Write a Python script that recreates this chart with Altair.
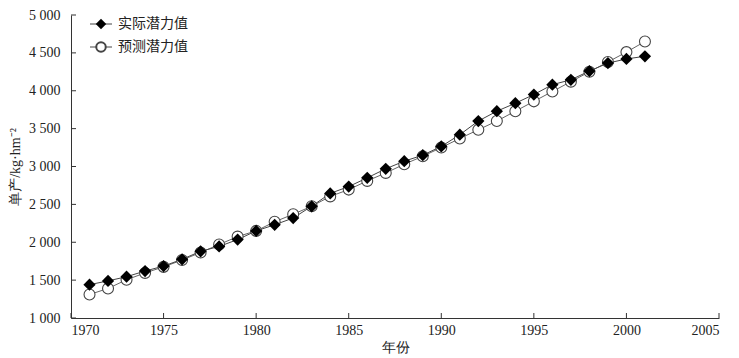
import altair as alt
import pandas as pd

years = list(range(1971, 2002))
actual = [1440, 1490, 1545, 1620, 1685, 1775, 1880, 1945, 2035, 2150,
          2230, 2320, 2475, 2645, 2735, 2850, 2970, 3070, 3150, 3265,
          3420, 3600, 3730, 3835, 3950, 4080, 4145, 4260, 4365, 4420, 4455]
predicted = [1310, 1390, 1505, 1595, 1675, 1765, 1865, 1970, 2075, 2150,
             2270, 2370, 2475, 2605, 2695, 2810, 2915, 3030, 3135, 3250,
             3370, 3485, 3600, 3730, 3860, 3990, 4120, 4250, 4380, 4510, 4650]
legend_labels = ["实际潜力值", "预测潜力值"]
x_ticks = list(range(1970, 2006, 5))
y_ticks = list(range(1000, 5001, 500))

W, H = 648, 303
FONT = "Liberation Serif"

df_a = pd.DataFrame({"year": years, "value": actual})
df_p = pd.DataFrame({"year": years, "value": predicted})

xs = alt.Scale(domain=[1970, 2005], nice=False, zero=False)
ys = alt.Scale(domain=[1000, 5000], nice=False, zero=False)

x_enc = alt.X("year:Q", scale=xs, title="年份",
              axis=alt.Axis(values=x_ticks, format="d", tickSize=0, labelPadding=5,
                            grid=False, domainColor="#333", titlePadding=3))
y_enc = alt.Y("value:Q", scale=ys, title="单产/kg·hm⁻²",
              axis=alt.Axis(values=y_ticks, tickSize=0, labelPadding=11, grid=False,
                            domainColor="#333", titlePadding=6,
                            labelExpr="replace(format(datum.value, ','), ',', ' ')"))

line_p = alt.Chart(df_p).mark_line(color="#666", strokeWidth=1).encode(x=x_enc, y=y_enc)
line_a = alt.Chart(df_a).mark_line(color="#444", strokeWidth=1).encode(x=x_enc, y=y_enc)
pts_p = alt.Chart(df_p).mark_point(shape="circle", filled=False, size=120, color="#444",
                                   fill="white", fillOpacity=1, strokeWidth=1.1, opacity=1).encode(x=x_enc, y=y_enc)
pts_a = alt.Chart(df_a).mark_point(shape="diamond", filled=True, size=150, color="black",
                                   opacity=1).encode(x=x_enc, y=y_enc)

yt = alt.Chart(pd.DataFrame({"value": y_ticks})).mark_rule(color="#333").encode(
    y=y_enc, x=alt.value(0), x2=alt.value(5))
xt = alt.Chart(pd.DataFrame({"year": x_ticks})).mark_rule(color="#333").encode(
    x=x_enc, y=alt.value(H), y2=alt.value(H - 5))

leg_layers = []
for i, lab in enumerate(legend_labels):
    yy = 9 + 23 * i
    d = pd.DataFrame({"label": [lab]})
    leg_layers.append(alt.Chart(d).mark_rule(color="#444").encode(
        x=alt.value(19), x2=alt.value(41), y=alt.value(yy)))
    if i == 0:
        leg_layers.append(alt.Chart(d).mark_point(shape="diamond", filled=True, size=110,
                                                  color="black", opacity=1).encode(
            x=alt.value(30), y=alt.value(yy)))
    else:
        leg_layers.append(alt.Chart(d).mark_point(shape="circle", filled=False, size=90,
                                                  color="#444", fill="white", fillOpacity=1,
                                                  opacity=1).encode(
            x=alt.value(30), y=alt.value(yy)))
    leg_layers.append(alt.Chart(d).mark_text(align="left", baseline="middle", fontSize=14,
                                             font="Noto Sans CJK SC", color="#222").encode(
        x=alt.value(47), y=alt.value(yy), text="label:N"))

chart = alt.layer(line_p, line_a, pts_p, pts_a, yt, xt, *leg_layers).properties(
    width=W, height=H, padding={"left": 0, "top": 0, "right": 0, "bottom": 0}
).configure_view(stroke=None).configure_axis(
    labelFont=FONT, titleFont=FONT, labelFontSize=14, titleFontSize=14,
    labelColor="#222", titleColor="#222", titleFontWeight="normal"
)

chart.save("out.html", embed_options={"renderer": "svg", "actions": False})
